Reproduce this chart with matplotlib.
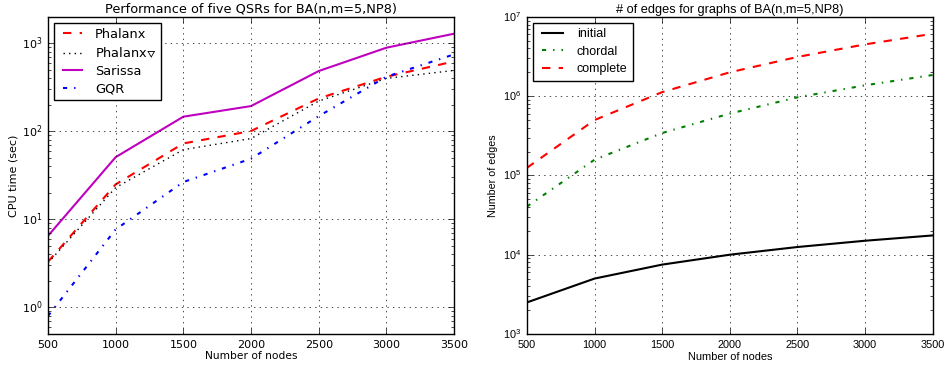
import matplotlib
matplotlib.use('Agg')
import matplotlib.pyplot as plt

# data
nodes = [500, 1000, 1500, 2000, 2500, 3000, 3500]

phalanx = [3.3, 25, 73, 101, 237, 418, 624]
phalanx_tri = [3.2, 23, 62, 83, 221, 400, 493]
sarissa = [6.5, 51, 147, 194, 485, 893, 1288]
gqr = [0.8, 7.7, 26.6, 49, 149, 418, 750]

edges_initial = [2500, 5000, 7500, 10000, 12500, 15000, 17500]
edges_chordal = [40500, 158000, 343000, 603000, 967000, 1370000, 1850000]
edges_complete = [124750, 499500, 1124250, 1999000, 3123750, 4498500, 6123250]

xticks = [500, 1000, 1500, 2000, 2500, 3000, 3500]

plt.style.use('classic')
plt.rcParams['font.family'] = 'DejaVu Sans'

fig = plt.figure(figsize=(9.46, 3.67), dpi=100, facecolor='white')
ax1 = fig.add_axes([0.0507, 0.090, 0.4293, 0.864])
ax2 = fig.add_axes([0.557, 0.090, 0.429, 0.864])

# left: CPU time
ax1.plot(nodes, phalanx, 'r--', lw=1.5, label='Phalanx')
ax1.plot(nodes, phalanx_tri, 'k:', lw=1.0, label=r'Phalanx$\triangledown$')
ax1.plot(nodes, sarissa, '-', color='m', lw=1.5, label='Sarissa')
ax1.plot(nodes, gqr, 'b-.', lw=1.5, label='GQR')
ax1.set_yscale('log')
ax1.set_xlim(500, 3500)
ax1.set_ylim(0.5, 2000)
ax1.set_xticks(xticks)
ax1.set_title('Performance of five QSRs for BA(n,m=5,NP8)', fontsize=9.3, pad=3)
ax1.set_xlabel('Number of nodes', fontsize=7.7, labelpad=1)
ax1.set_ylabel('CPU time (sec)', fontsize=8, labelpad=2)
ax1.tick_params(labelsize=8)
ax1.grid(True, which='major')
ax1.legend(loc='upper left', fontsize=9.3, handlelength=2.1, handletextpad=0.7,
           labelspacing=0.35, borderaxespad=0.45, borderpad=0.4)

# right: number of edges (this panel uses an Arial-like font)
rfont = 'Liberation Sans'
ax2.plot(nodes, edges_initial, 'k-', lw=1.5, label='initial')
ax2.plot(nodes, edges_chordal, 'g-.', lw=1.5, label='chordal')
ax2.plot(nodes, edges_complete, 'r--', lw=1.5, label='complete')
ax2.set_yscale('log')
ax2.set_xlim(500, 3500)
ax2.set_ylim(1e3, 1e7)
ax2.set_xticks(xticks)
ax2.set_title('# of edges for graphs of BA(n,m=5,NP8)', fontsize=9.2, pad=3,
              family=rfont)
ax2.set_xlabel('Number of nodes', fontsize=7.9, labelpad=2, family=rfont)
ax2.set_ylabel('Number of edges', fontsize=7.7, labelpad=4, family=rfont)
ax2.tick_params(labelsize=7.8)
for lab in ax2.get_xticklabels() + ax2.get_yticklabels():
    lab.set_family(rfont)
ax2.grid(True, which='major')
ax2.legend(loc='upper left', prop={'family': rfont, 'size': 9},
           handlelength=2.3, handletextpad=0.8,
           labelspacing=0.45, borderaxespad=0.45, borderpad=0.45)

fig.savefig('out.png', dpi=100, facecolor='white')
